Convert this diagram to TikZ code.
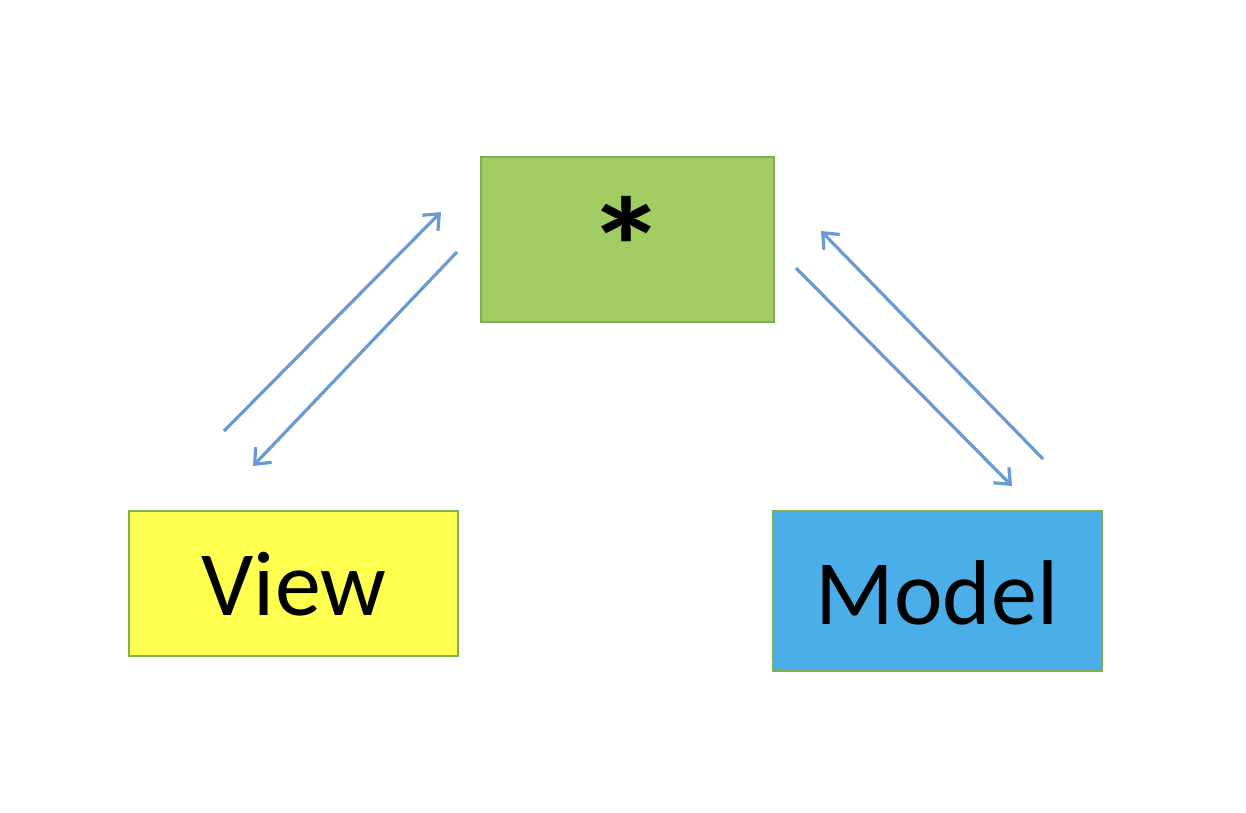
\documentclass[tikz,border=0pt]{standalone}
\usepackage{fontspec}
\setmainfont{Carlito}
\usetikzlibrary{arrows.meta}
\definecolor{boxgreen}{HTML}{A0CC62}
\definecolor{edgegreen}{HTML}{80AE52}
\definecolor{boxyellow}{HTML}{FFFF50}
\definecolor{boxblue}{HTML}{4BAEE8}
\definecolor{arrowblue}{HTML}{6A9AD2}
\tikzset{
  box/.style={draw=edgegreen, line width=2.8pt, inner sep=0pt},
  lbl/.style={inner sep=0pt, font=\fontsize{92}{100}\selectfont},
  conn/.style={draw=arrowblue, line width=3.2pt, -{Straight Barb[length=13pt,width=22pt,line width=3.2pt]}}
}
\begin{document}
\begin{tikzpicture}[x=1pt,y=-1pt]
\useasboundingbox[fill=white] (0,0) rectangle (1246,812);
\node[box, fill=boxgreen, minimum width=293pt, minimum height=165pt] (ctrl) at (627.5,239.5) {};
\node[box, fill=boxyellow, minimum width=329pt, minimum height=145pt] (view) at (293.5,583.5) {};
\node[box, fill=boxblue, minimum width=329pt, minimum height=160pt] (model) at (937.5,591) {};
\node[inner sep=0pt, anchor=base, xscale=1.15, font=\fontsize{140}{140}\selectfont\bfseries] (star) at (627,296) {*};
\node[lbl, anchor=base] (viewtxt) at (294,615) {View};
\node[lbl, anchor=base] (modeltxt) at (937,624) {Model};
\coordinate (a1s) at (224,431);
\coordinate (a1e) at (441,212);
\coordinate (a2s) at (457,252);
\coordinate (a2e) at (253,466);
\coordinate (a3s) at (1043,459);
\coordinate (a3e) at (821,231);
\coordinate (a4s) at (796,268);
\coordinate (a4e) at (1012,486);
\draw[conn] (a1s) -- (a1e);
\draw[conn] (a2s) -- (a2e);
\draw[conn] (a3s) -- (a3e);
\draw[conn] (a4s) -- (a4e);
\end{tikzpicture}
\end{document}
